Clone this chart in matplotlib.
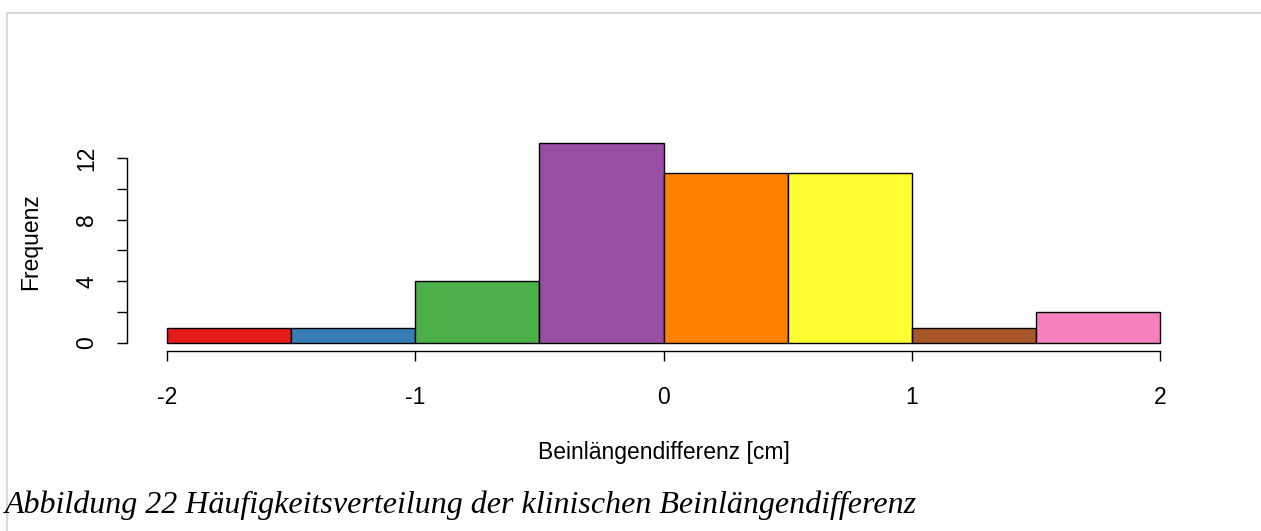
import matplotlib
matplotlib.use("agg")
import matplotlib.pyplot as plt
from matplotlib.lines import Line2D

# histogram of clinical leg length difference, bins of 0.5 cm
bin_edges = [-2.0, -1.5, -1.0, -0.5, 0.0, 0.5, 1.0, 1.5, 2.0]
counts = [1, 1, 4, 13, 11, 11, 1, 2]
bar_colors = ["#E41A1C", "#377EB8", "#4DAF4A", "#984EA3",
              "#FF7F00", "#FFFF33", "#A65628", "#F781BF"]
x_ticks = [-2, -1, 0, 1, 2]
y_ticks = [0, 2, 4, 6, 8, 10, 12]
y_labels = ["0", "", "4", "", "8", "", "12"]
caption = "Abbildung 22 Häufigkeitsverteilung der klinischen Beinlängendifferenz"

W, H = 1261, 531
fig = plt.figure(figsize=(W / 100, H / 100), dpi=100)

# plot region in pixels (R-style: 4% padding around the data range)
left, right, top, bottom = 127.3, 1199.7, 134.5, 351.0
ax = fig.add_axes([left / W, 1 - bottom / H, (right - left) / W, (bottom - top) / H])

for lo, hi, c, col in zip(bin_edges[:-1], bin_edges[1:], counts, bar_colors):
    ax.bar(lo, c, width=hi - lo, align="edge", color=col,
           edgecolor="black", linewidth=1.0)

xr = bin_edges[-1] - bin_edges[0]
ax.set_xlim(bin_edges[0] - 0.04 * xr, bin_edges[-1] + 0.04 * xr)
ax.set_ylim(-0.04 * max(counts), max(counts) * 1.04)

for s in ["top", "right"]:
    ax.spines[s].set_visible(False)
ax.spines["bottom"].set_bounds(x_ticks[0], x_ticks[-1])
ax.spines["left"].set_bounds(y_ticks[0], y_ticks[-1])
for s in ["bottom", "left"]:
    ax.spines[s].set_linewidth(1.0)

font = "Liberation Sans"
fs = 16.5
ax.set_xticks(x_ticks)
ax.set_xticklabels([str(t) for t in x_ticks], family=font, fontsize=fs)
ax.set_yticks(y_ticks)
ax.set_yticklabels(y_labels, family=font, fontsize=fs, rotation=90, va="center")
ax.tick_params(axis="both", direction="out", length=7, width=1.0)
ax.tick_params(axis="x", pad=18)
ax.tick_params(axis="y", pad=14)

fig.text(664 / W, 1 - 452 / H, "Beinlängendifferenz [cm]", family=font,
         fontsize=fs, ha="center", va="center")
fig.text(31 / W, 1 - 242 / H, "Frequenz", family=font, fontsize=fs,
         rotation=90, ha="center", va="center")

fig.text(5 / W, 1 - 505 / H, caption, family="Liberation Serif",
         style="italic", fontsize=23, ha="left", va="center")

# light frame around the figure area
fig.add_artist(Line2D([7 / W, 1260 / W], [1 - 13 / H, 1 - 13 / H],
                      color="#d8d8d8", linewidth=1.5, transform=fig.transFigure))
fig.add_artist(Line2D([7 / W, 7 / W], [1 - 13 / H, 0],
                      color="#d8d8d8", linewidth=1.5, transform=fig.transFigure))

fig.savefig("out.png", dpi=100)
